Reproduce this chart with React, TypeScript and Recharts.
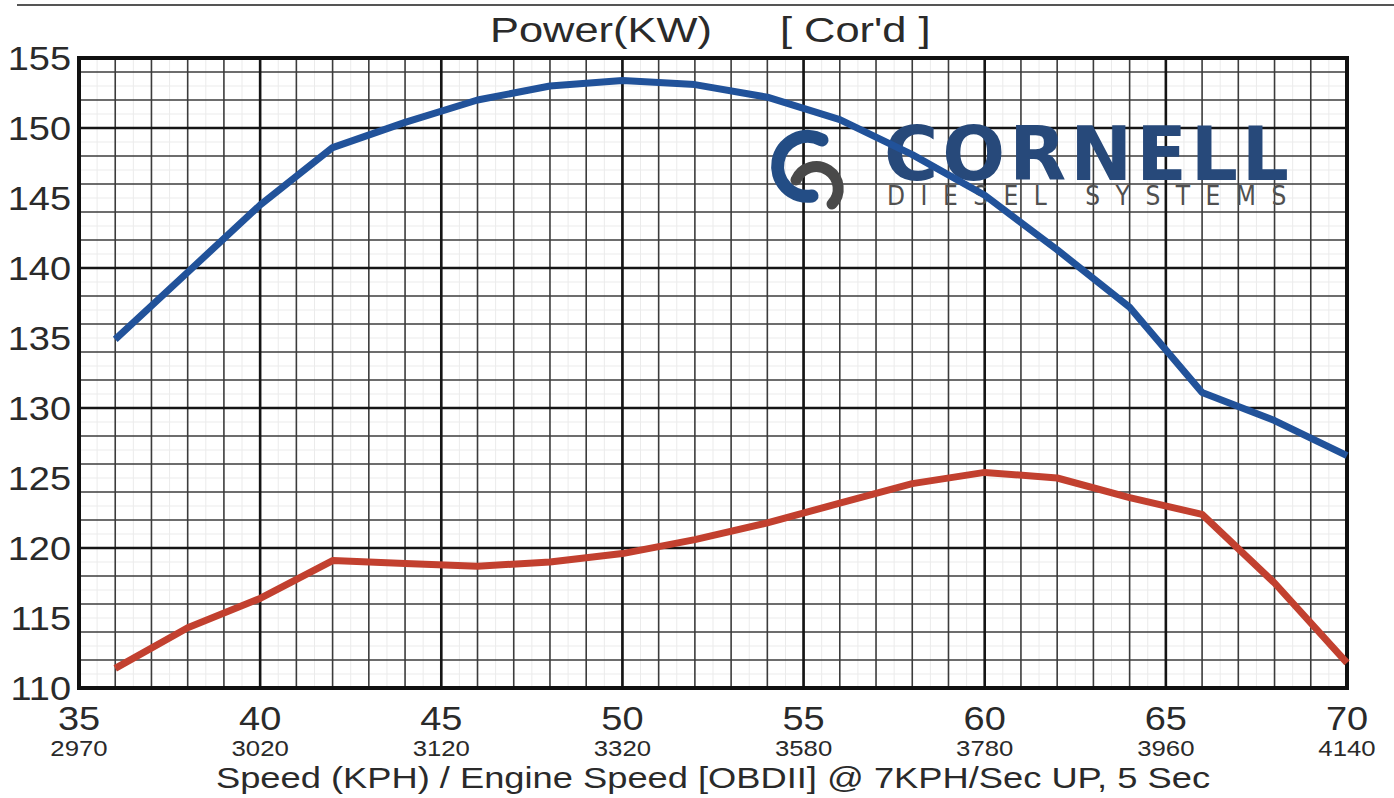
import { ReactElement } from 'react'
import { CartesianGrid, Customized, Line, LineChart, ReferenceArea, XAxis, YAxis } from 'recharts'

const speeds = [36, 38, 40, 42, 44, 46, 48, 50, 52, 54, 56, 58, 60, 62, 64, 66, 68, 70]
const powerUpper = [134.9, 139.7, 144.5, 148.6, 150.4, 152.0, 153.0, 153.4, 153.1, 152.2, 150.6, 148.1, 145.2, 141.3, 137.2, 131.1, 129.1, 126.6]
const powerLower = [111.4, 114.3, 116.4, 119.1, 118.9, 118.7, 119.0, 119.6, 120.6, 121.8, 123.2, 124.6, 125.4, 125.0, 123.6, 122.4, 117.5, 111.8]

const kphTicks = [35, 40, 45, 50, 55, 60, 65, 70]
const rpmTicks = ['2970', '3020', '3120', '3320', '3580', '3780', '3960', '4140']
const powerTicks = [110, 115, 120, 125, 130, 135, 140, 145, 150, 155]

const xMinor = Array.from({ length: 36 }, (_, i) => 35 + i)
const xFine = Array.from({ length: 35 }, (_, i) => 35.5 + i)
const xMajor = [40, 45, 50, 55, 60, 65]
const yMinor = Array.from({ length: 22 }, (_, i) => 112 + i * 2)
const yFine = Array.from({ length: 23 }, (_, i) => 111 + i * 2)
const yMajor = [120, 130, 140, 150]

const data = speeds.map((s, i) => ({ speed: s, upper: powerUpper[i], lower: powerLower[i] }))

const FONT = "'Liberation Sans', Arial, sans-serif"
const INK = '#2a2a2a'

function XTick(props: any): ReactElement {
  const { x, y, payload } = props
  const i = kphTicks.indexOf(payload.value)
  return (
    <g>
      <text transform={`translate(${x},${y + 40}) scale(1.15,1)`} textAnchor="middle" fontSize={33} fill={INK} fontFamily={FONT}>
        {payload.value}
      </text>
      <text transform={`translate(${x},${y + 66}) scale(1.12,1)`} textAnchor="middle" fontSize={23} fill={INK} fontFamily={FONT}>
        {rpmTicks[i]}
      </text>
    </g>
  )
}

function YTick(props: any): ReactElement {
  const { x, y, payload } = props
  return (
    <text transform={`translate(${x},${y + 12}) scale(1.15,1)`} textAnchor="end" fontSize={33} fill={INK} fontFamily={FONT}>
      {payload.value}
    </text>
  )
}

function AxisTitle(props: any): ReactElement {
  const { viewBox } = props
  const cx = viewBox.x + viewBox.width / 2
  return (
    <text transform={`translate(${cx},788) scale(1.21,1)`} textAnchor="middle" fontSize={30} fill={INK} fontFamily={FONT}>
      Speed (KPH) / Engine Speed [OBDII] @ 7KPH/Sec UP, 5 Sec
    </text>
  )
}

function Logo(): ReactElement {
  return (
    <g>
      <g transform="translate(760,118)">
        <path d="M 62 22 A 30 30 0 1 0 52 78" fill="none" stroke="#234d85" strokeWidth={13} strokeLinecap="round" />
        <path d="M 36 62 A 22 22 0 1 1 72 86" fill="none" stroke="#4a4a4a" strokeWidth={11} strokeLinecap="round" />
      </g>
      <text x={884} y={180} fontFamily="'DejaVu Sans', sans-serif" fontWeight="bold" fontSize={74} letterSpacing={4} fill="#27497a">
        CORNELL
        <tspan x={887} y={205} fontFamily="'DejaVu Sans Condensed', 'DejaVu Sans', sans-serif" fontWeight="normal" fontSize={26} letterSpacing={15.5} fill="#505050">
          DIESEL SYSTEMS
        </tspan>
      </text>
    </g>
  )
}

export default function App(): ReactElement {
  return (
    <div style={{ position: 'absolute', left: 0, top: 0, width: 1394, height: 798, background: '#fff', fontFamily: FONT }}>
      <div style={{ position: 'absolute', left: 17, top: 4, width: 1377, height: 2, background: '#555' }} />
      <div style={{ position: 'absolute', left: 490, top: 8, fontSize: 35, color: INK, lineHeight: '44px', transform: 'scaleX(1.24)', transformOrigin: 'left' }}>
        Power(KW)
      </div>
      <div style={{ position: 'absolute', left: 780, top: 8, fontSize: 35, color: INK, lineHeight: '44px', transform: 'scaleX(1.24)', transformOrigin: 'left' }}>
        [ Cor'd ]
      </div>
      <div style={{ position: 'absolute', left: 0, top: 0 }}>
        <LineChart width={1394} height={798} data={data} margin={{ top: 58, right: 47, bottom: 0, left: 0 }}>
          <CartesianGrid horizontalValues={yFine} verticalValues={xFine} stroke="#ebebeb" strokeWidth={1} />
          <CartesianGrid horizontalValues={yMinor} verticalValues={xMinor} stroke="#3c3c3c" strokeWidth={1.6} />
          <CartesianGrid horizontalValues={yMajor} verticalValues={xMajor} stroke="#151515" strokeWidth={2.6} />
          <Customized component={<Logo />} />
          <XAxis
            dataKey="speed"
            type="number"
            domain={[35, 70]}
            ticks={kphTicks}
            tick={<XTick />}
            tickLine={false}
            tickSize={0}
            axisLine={false}
            height={110}
            interval={0}
            label={<AxisTitle />}
          />
          <YAxis
            type="number"
            domain={[110, 155]}
            ticks={powerTicks}
            tick={<YTick />}
            tickLine={false}
            tickSize={0}
            tickMargin={8}
            axisLine={false}
            width={79}
            interval={0}
          />
          <ReferenceArea x1={35} x2={70} y1={110} y2={155} fill="none" stroke="#111" strokeWidth={4} />
          <Line type="linear" dataKey="upper" stroke="#21529a" strokeWidth={7} dot={false} isAnimationActive={false} strokeLinejoin="round" />
          <Line type="linear" dataKey="lower" stroke="#c2402f" strokeWidth={7} dot={false} isAnimationActive={false} strokeLinejoin="round" />
        </LineChart>
      </div>
    </div>
  )
}
